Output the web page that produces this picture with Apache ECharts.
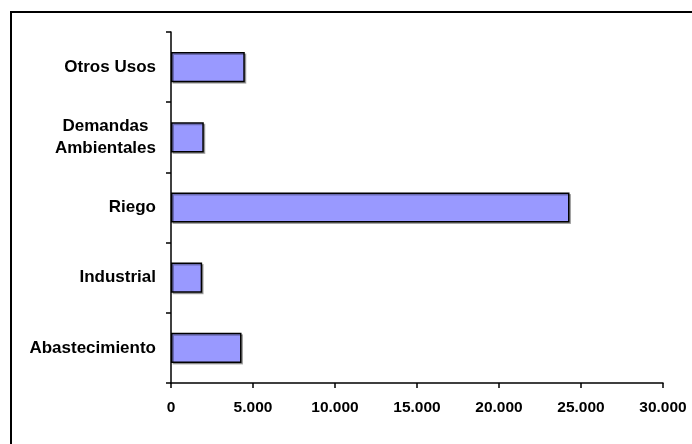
<!DOCTYPE html>
<html>
<head>
<meta charset="utf-8">
<script src="https://cdn.jsdelivr.net/npm/echarts@6/dist/echarts.min.js"></script>
<style>
html,body{margin:0;padding:0;background:#fff;}
#chart{width:692px;height:444px;}
</style>
</head>
<body>
<div id="chart"></div>
<script>
var categories = ['Abastecimiento', 'Industrial', 'Riego', 'Demandas\nAmbientales', 'Otros Usos'];
var values = [4300, 1900, 24300, 2000, 4500];
var xTicks = [0, 5000, 10000, 15000, 20000, 25000, 30000];

var fontFam = "'Liberation Sans', Arial, sans-serif";
var chart = echarts.init(document.getElementById('chart'), null, {renderer: 'canvas'});
function fmt(v) {
  return String(v).replace(/\B(?=(\d{3})+(?!\d))/g, '.');
}
chart.setOption({
  animation: false,
  backgroundColor: '#ffffff',
  graphic: [{
    type: 'rect',
    shape: {x: 11, y: 12, width: 700, height: 460},
    style: {fill: 'none', stroke: '#000', lineWidth: 2},
    silent: true
  }],
  grid: {left: 171, right: 29, top: 32, bottom: 61, containLabel: false},
  xAxis: {
    type: 'value',
    min: xTicks[0],
    max: xTicks[xTicks.length - 1],
    interval: xTicks[1] - xTicks[0],
    axisLine: {show: true, lineStyle: {color: '#000', width: 1.5}},
    axisTick: {show: true, length: 5, lineStyle: {color: '#000', width: 1.5}},
    splitLine: {show: false},
    axisLabel: {
      margin: 17,
      color: '#000',
      fontFamily: fontFam,
      fontWeight: 'bold',
      fontSize: 15.5,
      formatter: fmt
    }
  },
  yAxis: {
    type: 'category',
    data: categories,
    axisLine: {show: true, lineStyle: {color: '#000', width: 1.5}},
    axisTick: {show: true, length: 5, alignWithLabel: false, lineStyle: {color: '#000', width: 1.5}},
    axisLabel: {
      margin: 15,
      align: 'right',
      formatter: function (v) {
        return v.split('\n').map(function (s) { return '{c|' + s + '}'; }).join('\n');
      },
      rich: {
        c: {
          align: 'center',
          color: '#000',
          fontFamily: fontFam,
          fontWeight: 'bold',
          fontSize: 17,
          lineHeight: 22
        }
      }
    }
  },
  series: [{
    type: 'bar',
    data: values,
    barCategoryGap: '57%',
    itemStyle: {
      color: '#9999FF',
      borderColor: '#000',
      borderWidth: 1.5,
      shadowColor: 'rgba(0,0,0,0.3)',
      shadowOffsetX: 1.5,
      shadowOffsetY: 1.5,
      shadowBlur: 0
    }
  }]
});
</script>
</body>
</html>
